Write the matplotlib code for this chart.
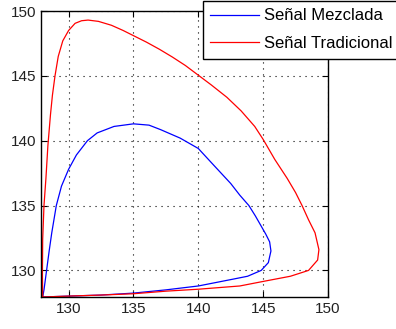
import matplotlib

matplotlib.use("Agg")
import matplotlib.pyplot as plt

plt.rcParams["font.family"] = ["Liberation Sans", "DejaVu Sans"]

# trajectory of the mixed signal (x, y), closed loop
mezclada_x = [128.0, 128.1, 128.3, 128.5, 128.7, 129.05, 129.45, 130.0, 130.6, 131.45,
              132.2, 133.5, 135.0, 136.2, 137.1, 138.6, 140.0, 141.2, 142.5, 143.2,
              143.9, 144.4, 144.8, 145.2, 145.5, 145.6, 145.4, 144.85, 143.8, 142.8,
              140.0, 137.5, 135.0, 132.5, 130.0, 128.0]
mezclada_y = [127.95, 128.5, 130.0, 131.5, 132.9, 135.0, 136.5, 137.8, 138.9, 140.0,
              140.6, 141.1, 141.3, 141.2, 140.85, 140.2, 139.4, 138.1, 136.7, 135.8,
              135.0, 134.2, 133.5, 132.8, 132.2, 131.5, 130.6, 130.0, 129.55, 129.35,
              128.8, 128.5, 128.25, 128.1, 128.02, 127.95]

# trajectory of the traditional signal
tradicional_x = [128.0, 127.98, 128.0, 128.1, 128.25, 128.4, 128.6, 128.75, 128.95, 129.2,
                 129.55, 130.0, 130.5, 131.0, 131.5, 132.3, 133.3, 134.2, 135.0, 136.0,
                 137.0, 138.0, 139.0, 140.0, 141.0, 142.2, 143.3, 144.35, 145.0, 145.9,
                 146.85, 147.5, 148.0, 148.5, 149.0, 149.3, 149.2, 148.5, 147.1, 145.0,
                 143.2, 140.0, 137.5, 135.0, 132.5, 130.0, 128.0]
tradicional_y = [127.95, 129.7, 132.4, 135.0, 137.1, 139.6, 142.0, 143.5, 145.0, 146.5,
                 147.7, 148.5, 149.05, 149.25, 149.3, 149.2, 148.9, 148.5, 148.1, 147.6,
                 147.05, 146.45, 145.8, 145.05, 144.3, 143.35, 142.3, 141.1, 140.1, 138.55,
                 137.1, 136.0, 135.0, 133.9, 132.9, 131.6, 130.8, 130.0, 129.55, 129.15,
                 128.8, 128.55, 128.4, 128.2, 128.1, 128.02, 127.95]

x_ticks = [130, 135, 140, 145, 150]
y_ticks = [130, 135, 140, 145, 150]

fig = plt.figure(figsize=(3.96, 3.29), dpi=100)
ax = fig.add_axes([41 / 396, 32 / 329, 287 / 396, 286 / 329])

ax.plot(mezclada_x, mezclada_y, color="#0000ff", linewidth=0.9, label="Señal Mezclada")
ax.plot(tradicional_x, tradicional_y, color="#ff0000", linewidth=0.9, label="Señal Tradicional")

ax.set_xlim(127.87, 150)
ax.set_ylim(127.95, 150)
ax.set_xticks(x_ticks)
ax.set_yticks(y_ticks)
ax.tick_params(direction="in", top=True, right=True, labelsize=11, length=4, width=0.8,
               colors="black", labelcolor="#222222")
ax.grid(True, color="black", linestyle=(0, (1, 4.4)), linewidth=0.8)
for spine in ax.spines.values():
    spine.set_linewidth(1.0)

leg = fig.legend(loc="upper left", bbox_to_anchor=(202.5 / 396, 1 - 1.0 / 329), fontsize=12,
                 frameon=True, fancybox=False, edgecolor="black", framealpha=1,
                 handlelength=2.95, handletextpad=0.3, borderpad=0.45,
                 borderaxespad=0, labelspacing=0.75)
leg.get_frame().set_linewidth(1.0)

fig.savefig("out.png", dpi=100)
